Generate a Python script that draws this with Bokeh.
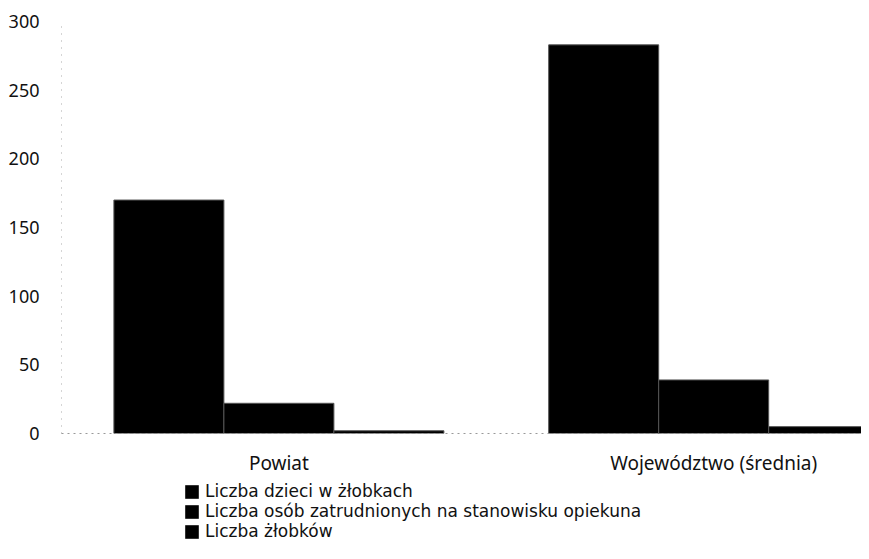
from bokeh.plotting import figure
from bokeh.models import Range1d, FixedTicker, Legend, LegendItem, ColumnDataSource
from bokeh.layouts import column
from bokeh.embed import file_html
from bokeh.resources import INLINE

categories = ["Powiat", "Województwo (średnia)"]
series_names = [
    "Liczba dzieci w żłobkach",
    "Liczba osób zatrudnionych na stanowisku opiekuna",
    "Liczba żłobków",
]
dzieci = [170, 283]
opiekunowie = [22, 39]
zlobki = [2, 5]
y_ticks = [0, 50, 100, 150, 200, 250, 300]

series_values = [dzieci, opiekunowie, zlobki]
bar_w = 0.253
offsets = [-bar_w, 0.0, bar_w]

p = figure(frame_width=800, frame_height=412,
           min_border_left=61, min_border_top=21, min_border_bottom=40, min_border_right=0,
           x_range=Range1d(-0.50, 1.34), y_range=Range1d(0, 300),
           output_backend="svg", toolbar_location=None)
p.outline_line_color = None
p.xgrid.grid_line_color = None
p.ygrid.grid_line_color = None

xs = list(range(len(categories)))
for name, vals, off in zip(series_names, series_values, offsets):
    src = ColumnDataSource(dict(x=[i + off for i in xs], top=vals))
    p.vbar(x="x", top="top", width=bar_w, source=src,
           fill_color="black", line_color="#555555", line_width=1)

p.xaxis.ticker = FixedTicker(ticks=xs)
p.xaxis.major_label_overrides = {i: c for i, c in enumerate(categories)}
p.xaxis.major_tick_line_color = None
p.xaxis.minor_tick_line_color = None
p.xaxis.axis_line_color = "#999999"
p.xaxis.axis_line_dash = "2 4"
p.xaxis.major_label_standoff = 10
p.xaxis.major_label_text_font = "Noto Sans"
p.xaxis.major_label_text_font_size = "19px"
p.xaxis.major_label_text_color = "#111111"

p.yaxis.ticker = FixedTicker(ticks=y_ticks)
p.yaxis.major_tick_line_color = None
p.yaxis.minor_tick_line_color = None
p.yaxis.axis_line_color = "#aaaaaa"
p.yaxis.axis_line_dash = "1 6"
p.yaxis.major_label_standoff = 16
p.yaxis.major_label_text_font = "Noto Sans"
p.yaxis.major_label_text_font_size = "18px"
p.yaxis.major_label_text_color = "#111111"

# legend in a separate strip below the chart (its bars lie outside the visible range)
lg = figure(width=861, height=70, min_border=0, x_range=Range1d(100, 101), y_range=Range1d(1000, 1001),
            output_backend="svg", toolbar_location=None)
lg.outline_line_color = None
lg.xaxis.visible = False
lg.yaxis.visible = False
lg.xgrid.grid_line_color = None
lg.ygrid.grid_line_color = None
items = []
for name, vals in zip(series_names, series_values):
    r = lg.vbar(x=xs, top=vals, width=0.5, fill_color="black", line_color=None)
    items.append(LegendItem(label=name, renderers=[r]))

legend = Legend(items=items, location=(122, 7), orientation="vertical")
legend.padding = 0
legend.margin = 0
legend.spacing = 0
legend.glyph_width = 17
legend.glyph_height = 17
legend.label_height = 18
legend.label_standoff = 5
legend.label_text_font = "DejaVu Sans"
legend.label_text_font_size = "17px"
legend.label_text_color = "#111111"
legend.border_line_color = None
legend.background_fill_alpha = 0
lg.add_layout(legend, "center")

layout = column(p, lg, spacing=0)
open("out.html", "w").write(file_html(layout, INLINE))
